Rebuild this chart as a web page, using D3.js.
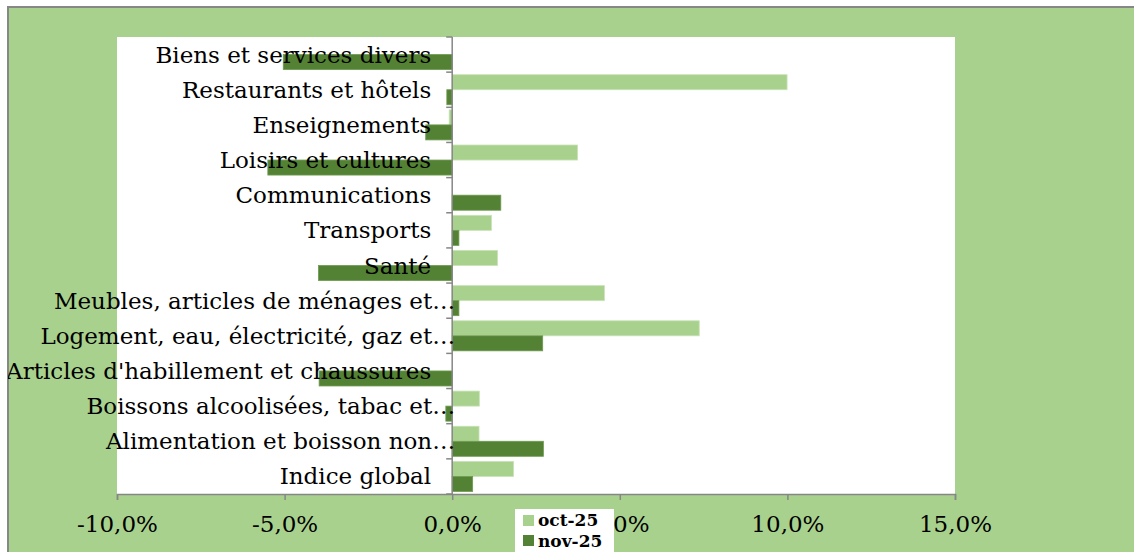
<!DOCTYPE html>
<html>
<head>
<meta charset="utf-8">
<script src="https://cdn.jsdelivr.net/npm/d3@7"></script>
<style>
  body { margin: 0; background: #fff; }
  svg text { font-family: "Bookman Old Style", "DejaVu Serif", serif; }
</style>
</head>
<body>
<div id="chart"></div>
<script>
// categories, bottom-to-top as in the source sheet
var categories = [
  "Indice global",
  "Alimentation et boisson non…",
  "Boissons alcoolisées, tabac et…",
  "Articles d'habillement et chaussures",
  "Logement, eau, électricité, gaz et…",
  "Meubles, articles de ménages et…",
  "Santé",
  "Transports",
  "Communications",
  "Loisirs et cultures",
  "Enseignements",
  "Restaurants et hôtels",
  "Biens et services divers"
];
var series = ["oct-25", "nov-25"];
var oct25 = [1.83, 0.80, 0.81, 0, 7.37, 4.54, 1.35, 1.17, 0, 3.74, -0.09, 9.99, 0];
var nov25 = [0.61, 2.72, -0.19, -3.97, 2.70, 0.20, -3.99, 0.20, 1.45, -5.50, -0.79, -0.16, -5.04];
var xTicks = [-10, -5, 0, 5, 10, 15];

window.onload = () => {
  var W = 1134, H = 552;
  var plot = { left: 117, right: 955, top: 37, bottom: 494 };
  var light = "#A9D18E", dark = "#548235", axisCol = "#868686";

  var svg = d3.select("#chart").append("svg")
    .attr("width", W)
    .attr("height", H);

  svg.append("clipPath").attr("id", "area")
    .append("rect").attr("x", 8).attr("y", 7).attr("width", W).attr("height", H);

  // chart area
  svg.append("rect")
    .attr("x", 8).attr("y", 7)
    .attr("width", W + 10).attr("height", H + 10)
    .attr("fill", light)
    .attr("stroke", "#878787").attr("stroke-width", 2);

  var g = svg.append("g").attr("clip-path", "url(#area)");

  // plot area
  g.append("rect")
    .attr("x", plot.left).attr("y", plot.top)
    .attr("width", plot.right - plot.left)
    .attr("height", plot.bottom - plot.top)
    .attr("fill", "#fff");

  var x = d3.scaleLinear()
    .domain([-10, 15])
    .range([plot.left, plot.right]);

  var y = d3.scaleBand()
    .domain(categories.slice().reverse())
    .range([plot.top, plot.bottom])
    .padding(0);

  var ys = d3.scaleBand()
    .domain(series)
    .range([0, y.bandwidth()])
    .paddingInner(0)
    .paddingOuter(0.17);

  var rows = categories.map((c, i) => ({ cat: c, vals: [oct25[i], nov25[i]] }));

  // bars
  var grp = g.selectAll(".cat").data(rows).enter().append("g")
    .attr("class", "cat")
    .attr("transform", d => "translate(0," + y(d.cat) + ")");

  grp.selectAll("rect")
    .data(d => d.vals.map((v, j) => ({ s: series[j], v: v })).filter(d => d.v !== 0))
    .enter().append("rect")
    .attr("x", d => Math.min(x(0), x(d.v)))
    .attr("y", d => ys(d.s))
    .attr("width", d => Math.abs(x(d.v) - x(0)))
    .attr("height", ys.bandwidth())
    .attr("fill", d => d.s === series[0] ? light : dark)
    .attr("stroke", d => d.s === series[0] ? "#c8e2b6" : "#6d9a4f")
    .attr("stroke-width", 0.8);

  // x axis
  var xAxis = d3.axisBottom(x)
    .tickValues(xTicks)
    .tickSize(6)
    .tickFormat(d => d3.format(".1f")(d).replace(".", ",").replace("−", "-") + "%");

  var gx = g.append("g")
    .attr("transform", "translate(0," + plot.bottom + ")")
    .call(xAxis);
  gx.select(".domain").attr("stroke", axisCol).attr("stroke-width", 1.5);
  gx.selectAll(".tick line").attr("stroke", axisCol).attr("stroke-width", 1.5);
  gx.selectAll(".tick text")
    .attr("fill", "#000")
    .attr("font-size", 23)
    .attr("dy", 0)
    .attr("y", 38);

  // y axis (line + ticks between categories)
  var ya = g.append("g");
  ya.append("line")
    .attr("x1", x(0)).attr("x2", x(0))
    .attr("y1", plot.top).attr("y2", plot.bottom)
    .attr("stroke", axisCol).attr("stroke-width", 1.5);
  var bounds = y.domain().map(c => y(c)).concat([plot.bottom]);
  ya.selectAll(".yt").data(bounds).enter().append("line")
    .attr("x1", x(0) - 6).attr("x2", x(0))
    .attr("y1", d => d).attr("y2", d => d)
    .attr("stroke", axisCol).attr("stroke-width", 1.5);

  ya.selectAll(".lab").data(categories).enter().append("text")
    .attr("x", d => d.endsWith("…") ? x(0) + 3 : x(0) - 21)
    .attr("y", d => y(d) + y.bandwidth() / 2 + 8)
    .attr("text-anchor", "end")
    .attr("font-size", 23)
    .attr("fill", "#000")
    .text(d => d);

  // legend
  var lg = g.append("g").attr("transform", "translate(515,509)");
  lg.append("rect").attr("width", 99).attr("height", 50).attr("fill", "#fff");
  series.forEach((s, i) => {
    lg.append("rect")
      .attr("x", 8).attr("y", 6 + i * 20)
      .attr("width", 11).attr("height", 11)
      .attr("fill", i === 0 ? light : dark);
    lg.append("text")
      .attr("x", 23).attr("y", 17 + i * 21)
      .attr("font-size", 17)
      .attr("font-weight", "bold")
      .attr("fill", "#000")
      .text(s);
  });
};
</script>
</body>
</html>
